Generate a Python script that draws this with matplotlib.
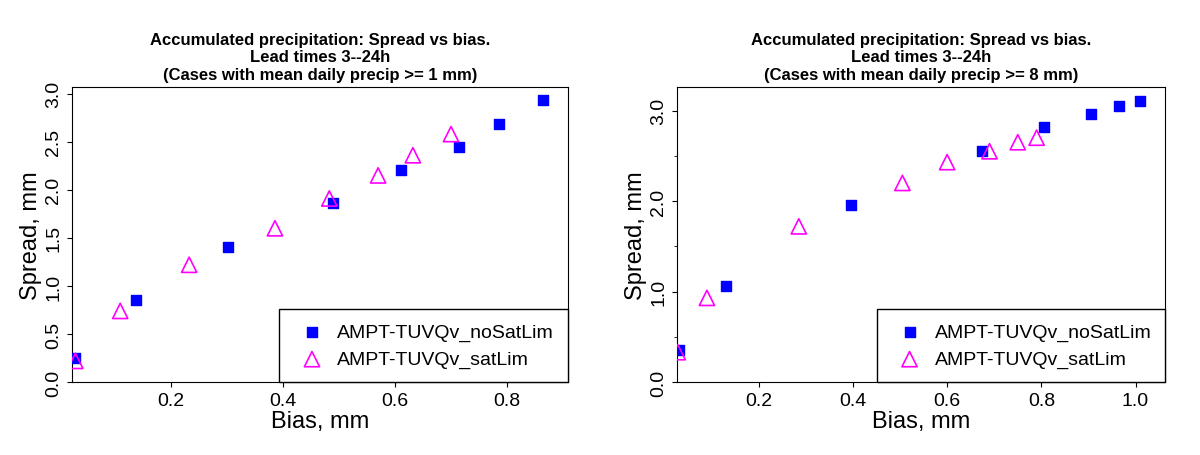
import matplotlib
matplotlib.use('Agg')
import matplotlib.pyplot as plt

plt.rcParams['font.family'] = ['Liberation Sans', 'DejaVu Sans']

# left panel: mean daily precip >= 1 mm
b1_nosat = [0.03, 0.138, 0.302, 0.49, 0.61, 0.714, 0.786, 0.865]
s1_nosat = [0.25, 0.85, 1.41, 1.86, 2.21, 2.45, 2.68, 2.93]
b1_sat = [0.03, 0.11, 0.233, 0.386, 0.483, 0.57, 0.632, 0.70]
s1_sat = [0.22, 0.74, 1.22, 1.60, 1.91, 2.15, 2.36, 2.58]

# right panel: mean daily precip >= 8 mm
b2_nosat = [0.03, 0.13, 0.395, 0.675, 0.805, 0.905, 0.965, 1.01]
s2_nosat = [0.35, 1.06, 1.96, 2.55, 2.82, 2.96, 3.05, 3.10]
b2_sat = [0.028, 0.09, 0.285, 0.505, 0.60, 0.69, 0.75, 0.79]
s2_sat = [0.33, 0.93, 1.72, 2.20, 2.43, 2.55, 2.65, 2.70]

fig = plt.figure(figsize=(12, 4.56), dpi=100)
ax1 = fig.add_axes([0.060, 0.16, 0.413, 0.647])
ax2 = fig.add_axes([0.564, 0.16, 0.407, 0.647])

def panel(ax, bn, sn, bs, ss, thr, xticks, yticks):
    ax.scatter(bn, sn, marker='s', color='blue', s=45, label='AMPT-TUVQv_noSatLim', zorder=3)
    ax.scatter(bs, ss, marker='^', facecolors='none', edgecolors='magenta', s=120,
               linewidths=1.2, label='AMPT-TUVQv_satLim', zorder=3)
    ax.set_xticks(xticks)
    ax.set_xticklabels(['%.1f' % v for v in xticks])
    ax.set_yticks(yticks)
    ax.set_yticklabels(['%.1f' % v for v in yticks], rotation=90, va='center')
    ax.tick_params(labelsize=14)
    ax.set_xlabel('Bias, mm', fontsize=17, labelpad=1)
    ax.set_ylabel('Spread, mm', fontsize=17, labelpad=2)
    ax.set_title('Accumulated precipitation: Spread vs bias.\nLead times 3--24h\n'
                 '(Cases with mean daily precip >= %d mm)' % thr,
                 fontsize=12, fontweight='bold', pad=6)
    leg = ax.legend(loc='lower right', fontsize=14, fancybox=False, framealpha=1,
                    edgecolor='black', handletextpad=0.3, borderaxespad=0,
                    borderpad=0.7)
    leg.get_frame().set_linewidth(1)

panel(ax1, b1_nosat, s1_nosat, b1_sat, s1_sat, 1,
      [0.2, 0.4, 0.6, 0.8], [0, 0.5, 1, 1.5, 2, 2.5, 3])
ax1.set_xlim(0.024, 0.908)
ax1.set_ylim(0, 3.07)
panel(ax2, b2_nosat, s2_nosat, b2_sat, s2_sat, 8,
      [0.2, 0.4, 0.6, 0.8, 1.0], [0, 1, 2, 3])
ax2.set_yticks([0.5, 1.5, 2.5], minor=True)
ax2.set_xlim(0.026, 1.063)
ax2.set_ylim(0, 3.26)

fig.savefig('out.png', dpi=100)
